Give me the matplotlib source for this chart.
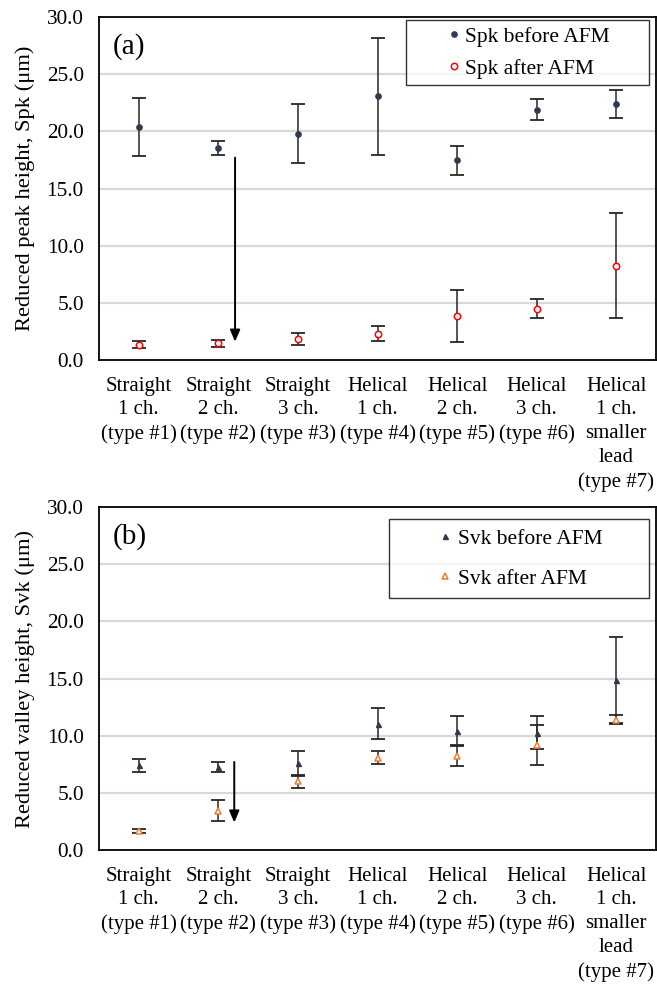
import matplotlib
matplotlib.use('Agg')
import matplotlib.pyplot as plt
from matplotlib.lines import Line2D

plt.rcParams['font.family'] = ['Liberation Serif', 'DejaVu Serif']

categories = ["Straight\n1 ch.\n(type #1)", "Straight\n2 ch.\n(type #2)",
              "Straight\n3 ch.\n(type #3)", "Helical\n1 ch.\n(type #4)",
              "Helical\n2 ch.\n(type #5)", "Helical\n3 ch.\n(type #6)",
              "Helical\n1 ch.\nsmaller\nlead\n(type #7)"]

# (a) Spk, mean and error (um)
spk_before = [20.4, 18.55, 19.8, 23.05, 17.45, 21.9, 22.4]
spk_before_err = [2.55, 0.6, 2.6, 5.1, 1.25, 0.9, 1.2]
spk_after = [1.35, 1.45, 1.85, 2.3, 3.85, 4.5, 8.25]
spk_after_err = [0.27, 0.3, 0.55, 0.67, 2.3, 0.87, 4.6]

# (b) Svk, mean and error (um)
svk_before = [7.4, 7.3, 7.6, 11.05, 10.4, 10.25, 14.85]
svk_before_err = [0.57, 0.44, 1.1, 1.33, 1.3, 1.45, 3.75]
svk_after = [1.65, 3.45, 6.0, 8.05, 8.25, 9.2, 11.4]
svk_after_err = [0.2, 0.92, 0.6, 0.57, 0.9, 1.75, 0.37]

# arrows: (x, y_start, y_end)
arrow_a = (1.21, 17.7, 1.6)
arrow_b = (1.2, 7.7, 2.4)

NAVY = '#2E3A50'
RED = '#FF0000'
ORANGE = '#ED7D31'
ERR = '#262626'

fig = plt.figure(figsize=(6.57, 9.9), dpi=100)
W, H = 657, 990
ax_a = fig.add_axes([99 / W, 1 - 360 / H, 557 / W, 343 / H])
ax_b = fig.add_axes([99 / W, 1 - 850 / H, 557 / W, 343 / H])

x = list(range(len(categories)))


def style_axes(ax, ylabel):
    ax.set_xlim(-0.5, len(categories) - 0.5)
    ax.set_ylim(0, 30)
    ax.set_yticks([0, 5, 10, 15, 20, 25, 30])
    ax.set_yticklabels([f'{v:.1f}' for v in [0, 5, 10, 15, 20, 25, 30]], fontsize=15.3)
    ax.set_xticks(x)
    ax.set_xticklabels(categories, fontsize=15, linespacing=1.34)
    ax.tick_params(axis='both', length=0)
    ax.tick_params(axis='y', pad=11)
    ax.tick_params(axis='x', pad=12)
    for v in [5, 10, 15, 20, 25]:
        ax.axhline(v, color='#D9D9D9', linewidth=1.6, zorder=0)
    for s in ax.spines.values():
        s.set_linewidth(1.3)
        s.set_color('black')
    ax.set_ylabel(ylabel, fontsize=16.2, labelpad=8)


def draw_errs(ax, vals, errs, **kw):
    ax.errorbar(x, vals, yerr=errs, fmt='none', ecolor=ERR, elinewidth=1.1,
                capsize=5, capthick=1.3, zorder=2)
    ax.plot(x, vals, linestyle='none', zorder=3, **kw)


def add_arrow(ax, arr):
    ax.annotate('', xy=(arr[0], arr[2]), xytext=(arr[0], arr[1]),
                arrowprops=dict(arrowstyle='-|>,head_width=0.3,head_length=0.7',
                                color='black', lw=1.4, shrinkA=0, shrinkB=0),
                zorder=4)


def add_legend(ax, handles, labels, anchor, bp, hl, htp, ls):
    leg = ax.legend(handles, labels, loc='upper left',
                    bbox_to_anchor=anchor, mode='expand',
                    fontsize=15.5, frameon=True, fancybox=False, borderpad=bp,
                    handlelength=hl, handletextpad=htp, labelspacing=ls,
                    borderaxespad=0)
    leg.get_frame().set_edgecolor('black')
    leg.get_frame().set_linewidth(1.0)


# panel (a)
style_axes(ax_a, 'Reduced peak height, Spk (μm)')
draw_errs(ax_a, spk_before, spk_before_err, marker='o', markersize=3.8,
          color=NAVY, markeredgecolor=NAVY)
draw_errs(ax_a, spk_after, spk_after_err, marker='o', markersize=4.6,
          markerfacecolor='white', markeredgecolor=RED, markeredgewidth=1.1)
add_arrow(ax_a, arrow_a)
ax_a.text(0.025, 0.915, '(a)', transform=ax_a.transAxes, fontsize=21,
          va='center', ha='left')
h_a = [Line2D([], [], linestyle='none', marker='o', markersize=3.8,
              color=NAVY),
       Line2D([], [], linestyle='none', marker='o', markersize=4.6,
              markerfacecolor='white', markeredgecolor=RED, markeredgewidth=1.1)]
add_legend(ax_a, h_a, ['Spk before AFM', 'Spk after AFM'],
           (0.551, 0.991, 0.436, 0.0), 0.3, 3.9, -1.45, 0.56)

# panel (b)
style_axes(ax_b, 'Reduced valley height, Svk (μm)')
draw_errs(ax_b, svk_before, svk_before_err, marker='^', markersize=3.6,
          color=NAVY, markeredgecolor=NAVY)
draw_errs(ax_b, svk_after, svk_after_err, marker='^', markersize=4.6,
          markerfacecolor='white', markeredgecolor=ORANGE, markeredgewidth=1.1)
add_arrow(ax_b, arrow_b)
ax_b.text(0.025, 0.915, '(b)', transform=ax_b.transAxes, fontsize=21,
          va='center', ha='left')
h_b = [Line2D([], [], linestyle='none', marker='^', markersize=3.6,
              color=NAVY),
       Line2D([], [], linestyle='none', marker='^', markersize=4.6,
              markerfacecolor='white', markeredgecolor=ORANGE, markeredgewidth=1.1)]
add_legend(ax_b, h_b, ['Svk before AFM', 'Svk after AFM'],
           (0.520, 0.965, 0.467, 0.0), 0.44, 4.4, -1.62, 0.93)

fig.savefig('out.png', dpi=100)
plt.close(fig)
